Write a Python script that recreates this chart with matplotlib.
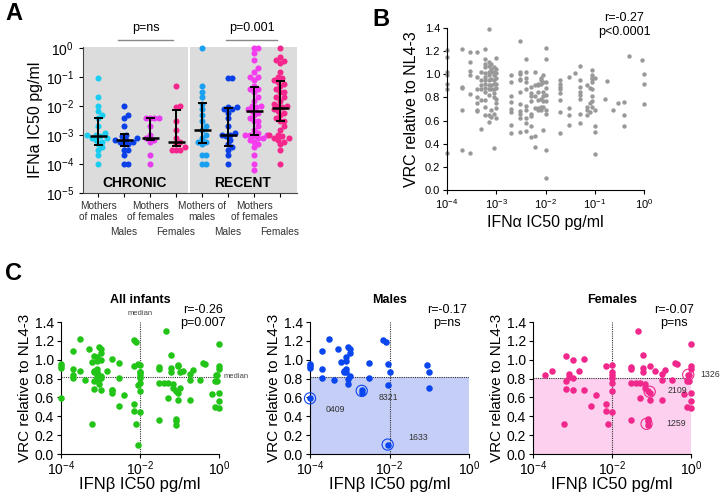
import numpy as np
import matplotlib
matplotlib.use("Agg")
import matplotlib.pyplot as plt
import matplotlib.transforms as mtransforms

plt.rcParams['font.family'] = ['Liberation Sans', 'DejaVu Sans']
plt.rcParams['mathtext.default'] = 'regular'

# ---------------- panel A data: IFNa IC50 per group ----------------
groups_a = ["Mothers\nof males", "Males", "Mothers\nof females", "Females",
            "Mothers of\nmales", "Males", "Mothers\nof females", "Females"]
colors_a = ["#1BCDF0", "#0B3FE8", "#E43CEE", "#F5268C",
            "#1AA0F0", "#0B3FE8", "#F23CEE", "#F5268C"]
ifna_values = [
    [0.09, 0.02, 0.01, 0.007, 0.005, 0.004, 0.002, 0.0012, 0.001, 0.001, 0.0009,
     0.0008, 0.0008, 0.0007, 0.0006, 0.0005, 0.0004, 0.0003, 0.0002, 0.0001],
    [0.01, 0.005, 0.004, 0.002, 0.001, 0.0009, 0.0008, 0.0007, 0.0007, 0.0006,
     0.0006, 0.0005, 0.0005, 0.0003, 0.0003, 0.0002, 0.0001, 0.0001],
    [0.004, 0.004, 0.004, 0.004, 0.002, 0.001, 0.0008, 0.0007, 0.0006, 0.0002, 0.0001],
    [0.05, 0.01, 0.009, 0.003, 0.0015, 0.0008, 0.0006, 0.0005, 0.0004, 0.0003,
     0.0003, 0.0003],
    [1.0, 0.05, 0.03, 0.02, 0.012, 0.008, 0.005, 0.003, 0.002, 0.0015, 0.001,
     0.0008, 0.0006, 0.0006, 0.0005, 0.0002, 0.0002, 0.0001, 0.0001],
    [0.09, 0.09, 0.009, 0.009, 0.008, 0.008, 0.006, 0.004, 0.002, 0.0012, 0.001,
     0.001, 0.0009, 0.0007, 0.0005, 0.0004, 0.0003, 0.0002, 0.0001],
    [1.0, 1.0, 0.7, 0.4, 0.2, 0.15, 0.1, 0.1, 0.08, 0.05, 0.04, 0.04, 0.03, 0.02,
     0.015, 0.01, 0.01, 0.009, 0.008, 0.007, 0.006, 0.005, 0.004, 0.003, 0.003,
     0.002, 0.0015, 0.0012, 0.001, 0.001, 0.001, 0.0009, 0.0008, 0.0008, 0.0007,
     0.0006, 0.0005, 0.0004, 0.0002, 0.0001, 0.00006],
    [1.0, 0.5, 0.4, 0.35, 0.3, 0.15, 0.1, 0.09, 0.08, 0.07, 0.06, 0.05, 0.04, 0.03,
     0.03, 0.02, 0.02, 0.015, 0.012, 0.01, 0.01, 0.009, 0.008, 0.007, 0.006, 0.005,
     0.004, 0.003, 0.003, 0.002, 0.0015, 0.001, 0.001, 0.0009, 0.0008, 0.0008,
     0.0007, 0.0006, 0.0005, 0.0003, 0.0001],
]
ifna_median = [9e-4, 6.5e-4, 8e-4, 6e-4, 1.5e-3, 1e-3, 6.8e-3, 8.8e-3]
ifna_low = [4.7e-4, 4.3e-4, 7e-4, 4.3e-4, 5.5e-4, 4.2e-4, 1e-3, 3e-3]
ifna_high = [3.9e-3, 1.1e-3, 4e-3, 7.5e-3, 1.25e-2, 8.5e-3, 4.7e-2, 7.6e-2]

# ---------------- panel B data: VRC vs IFNa IC50 ----------------
vrc_by_ifna = {
    1e-4: [1.21, 1.15, 1.02, 0.99, 0.92, 0.87, 0.32],
    2e-4: [1.22, 0.89, 0.88, 0.69, 0.35],
    3e-4: [1.19, 1.11, 1.03, 0.99, 0.83, 0.32],
    4e-4: [1.19, 0.98, 0.87, 0.80, 0.75, 0.69, 0.68],
    5e-4: [1.02, 0.95, 0.91, 0.87, 0.78, 0.53],
    6e-4: [1.22, 1.13, 1.09, 1.06, 1.01, 0.98, 0.95, 0.92, 0.88, 0.85, 0.78, 0.72, 0.65],
    7e-4: [1.39, 1.11, 1.07, 1.02, 0.99, 0.95, 0.91, 0.87, 0.82, 0.65, 0.59],
    8e-4: [1.09, 1.05, 1.02, 0.96, 0.91, 0.87, 0.69, 0.63],
    9e-4: [1.06, 1.02, 0.99, 0.95, 0.92, 0.87, 0.84, 0.80, 0.66, 0.36],
    1e-3: [1.14, 1.05, 1.01, 0.97, 0.92, 0.88, 0.79, 0.75, 0.71, 0.62],
    2e-3: [0.99, 0.93, 0.81, 0.76, 0.70, 0.67, 0.56, 0.49],
    3e-3: [1.29, 1.02, 1.00, 0.96, 0.95, 0.85, 0.74, 0.68, 0.66, 0.62, 0.50],
    4e-3: [1.13, 1.02, 0.97, 0.93, 0.87, 0.73, 0.69, 0.62, 0.58, 0.51],
    5e-3: [0.89, 0.84, 0.81, 0.77, 0.66, 0.64, 0.55, 0.46],
    6e-3: [1.02, 0.91, 0.81, 0.71, 0.47, 0.37],
    7e-3: [0.92, 0.91, 0.85, 0.78, 0.71, 0.69],
    8e-3: [0.97, 0.95, 0.92, 0.79, 0.72, 0.69],
    9e-3: [0.99, 0.93, 0.85, 0.81, 0.77, 0.72, 0.52],
    1e-2: [1.23, 1.13, 0.93, 0.88, 0.82, 0.77, 0.69, 0.66, 0.35, 0.10],
    2e-2: [0.95, 0.92, 0.89, 0.87, 0.84, 0.78, 0.67, 0.49],
    3e-2: [0.98, 0.71, 0.65, 0.56],
    4e-2: [1.01],
    5e-2: [1.07, 0.95, 0.89, 0.85, 0.82, 0.79, 0.66, 0.58],
    7e-2: [0.91, 0.72, 0.69, 0.65],
    8e-2: [0.88, 0.75, 0.67],
    9e-2: [1.04, 0.99, 0.97, 0.96, 0.93, 0.87, 0.81, 0.77, 0.72],
    1e-1: [0.97, 0.69, 0.55, 0.50, 0.31],
    0.16: [0.79],
    0.18: [0.94],
    0.23: [0.69],
    0.3: [0.75],
    0.4: [0.76, 0.65, 0.55],
    0.5: [1.16],
    0.9: [1.12],
    1.0: [1.00, 0.92, 0.74],
}

# ---------------- panel C data: VRC vs IFNb IC50 ----------------
vrc_males = {
    1e-4: [0.95, 0.93, 0.91, 0.59], 2e-4: [1.09, 0.90, 0.81], 3e-4: [1.22],
    4e-4: [0.79], 5e-4: [1.11], 6e-4: [0.98], 7e-4: [0.88, 0.87],
    8e-4: [1.03, 0.99, 0.90, 0.87], 9e-4: [1.13, 0.80, 0.74],
    1e-3: [1.11, 1.07, 0.83], 2e-3: [0.68, 0.65], 3e-3: [0.97, 0.81],
    7e-3: [1.21], 8e-3: [1.19], 9e-3: [0.95, 0.73, 0.10], 1e-2: [0.87],
    0.09: [0.94], 0.1: [0.87, 0.70],
}
vrc_females = {
    2e-4: [0.84], 3e-4: [0.88], 6e-4: [0.32], 7e-4: [1.04, 0.77, 0.69],
    8e-4: [0.85, 0.82], 1e-3: [1.00, 0.81, 0.68], 1.5e-3: [0.88],
    2e-3: [1.01, 0.68], 3e-3: [0.51], 4e-3: [0.63], 7e-3: [0.93, 0.53, 0.46],
    8e-3: [0.32], 1e-2: [0.94, 0.87, 0.84, 0.81, 0.75, 0.67, 0.45],
    0.03: [0.92, 0.90, 0.75, 0.36], 0.04: [0.75], 0.045: [1.30],
    0.05: [0.75, 0.59], 0.06: [1.05, 0.91, 0.87], 0.07: [0.74, 0.70],
    0.08: [0.67, 0.37, 0.35, 0.31], 0.09: [0.93, 0.65, 0.57], 0.12: [0.88],
    0.18: [0.85, 0.79, 0.57], 0.22: [0.89], 0.33: [0.79], 0.4: [0.96],
    0.45: [0.95], 0.65: [0.64], 0.8: [0.50, 0.77], 0.85: [0.84],
    0.9: [0.84, 0.77], 1.0: [1.17, 0.93, 0.90, 0.65, 0.56, 0.49],
}
male_ids = ["0409", "8321", "1633"]
male_id_x = [1e-4, 2e-3, 9e-3]
male_id_y = [0.59, 0.67, 0.10]
female_ids = ["1326", "2109", "1259"]
female_id_x = [0.85, 0.09, 0.075]
female_id_y = [0.84, 0.66, 0.32]
median_ifnb = 0.01
median_vrc = [0.82, 0.82, 0.81]
stats_c = ["r=-0.26\np=0.007", "r=-0.17\np=ns", "r=-0.07\np=ns"]


def flatten(d):
    xs, ys = [], []
    for k, v in d.items():
        xs += [k] * len(v)
        ys += v
    return np.array(xs), np.array(ys)


def swarm(vals, px_per_dec=28.9, px_per_unit=26.0, d=4.3):
    # simple deterministic beeswarm in pixel space
    ys = np.log10(vals) * px_per_dec
    offs = np.zeros(len(vals))
    placed = []
    for i in np.argsort(ys):
        cands = [0.0]
        for j in range(1, 30):
            cands += [j * d * 0.5, -j * d * 0.5]
        for c in cands:
            if all((c - px) ** 2 + (ys[i] - py) ** 2 >= d ** 2 for px, py in placed):
                offs[i] = c
                placed.append((c, ys[i]))
                break
    return offs / px_per_unit


W, H = 722, 495
fig = plt.figure(figsize=(W / 100, H / 100), dpi=100)


def box(l, t, r, b):
    return [l / W, 1 - b / H, (r - l) / W, (b - t) / H]


# ================= Panel A =================
ax = fig.add_axes(box(83, 47, 297, 193))
ax.set_yscale('log')
ax.set_ylim(1e-5, 1.1)
ax.set_xlim(0.42, 8.65)
ax.axvspan(0.42, 4.45, color='#DCDCDC', lw=0, zorder=0)
ax.axvspan(4.55, 8.65, color='#DCDCDC', lw=0, zorder=0)
pos = np.arange(1, 9)
for i, vals in enumerate(ifna_values):
    vals = np.array(vals)
    ax.scatter(pos[i] + swarm(vals), vals, s=19, color=colors_a[i], lw=0,
               zorder=2, clip_on=False)
ax.vlines(pos, ifna_low, ifna_high, color='black', lw=1.4, zorder=3)
ax.hlines(ifna_low, pos - 0.17, pos + 0.17, color='black', lw=1.4, zorder=3)
ax.hlines(ifna_high, pos - 0.17, pos + 0.17, color='black', lw=1.4, zorder=3)
ax.hlines(ifna_median, pos - 0.33, pos + 0.33, color='black', lw=1.8, zorder=3)
ax.set_xticks(pos)
ax.set_xticklabels([g if i % 2 == 0 else '' for i, g in enumerate(groups_a)],
                   fontsize=7.3, color='#333333', linespacing=1.1)
trans = mtransforms.blended_transform_factory(ax.transData, ax.transAxes)
for i, g in enumerate(groups_a):
    if i % 2 == 1:
        ax.text(pos[i], -0.27, g, transform=trans, ha='center', va='center',
                fontsize=7.3, color='#333333')
ax.tick_params(axis='x', length=3, pad=3)
ax.set_yticks([1e-5, 1e-4, 1e-3, 1e-2, 1e-1, 1e0])
ax.minorticks_off()
ax.tick_params(axis='y', labelsize=10, length=3)
ax.set_ylabel('IFNa IC50 pg/ml', fontsize=11.5, labelpad=2)
for s in ['top', 'right']:
    ax.spines[s].set_visible(False)
for s in ['left', 'bottom']:
    ax.spines[s].set_color('#444444')
ax.text(2.42, 0.07, 'CHRONIC', transform=trans, ha='center', va='center',
        fontsize=10, fontweight='bold')
ax.text(6.57, 0.07, 'RECENT', transform=trans, ha='center', va='center',
        fontsize=10, fontweight='bold')
for x0, x1, lab in [(1.77, 3.9, 'p=ns'), (5.92, 7.9, 'p=0.001')]:
    ax.plot([x0, x1], [1.045, 1.045], transform=trans, color='#888888', lw=1,
            clip_on=False)
    ax.text((x0 + x1) / 2, 1.13, lab, transform=trans, ha='center', va='center',
            fontsize=9)

# ================= Panel B =================
ax = fig.add_axes(box(447, 28, 644, 190))
bx, by = flatten(vrc_by_ifna)
ax.scatter(bx, by, s=10, color='#999999', lw=0, zorder=2, clip_on=False)
ax.set_xscale('log')
ax.set_xlim(1e-4, 1)
ax.set_ylim(0, 1.4)
ax.set_yticks(np.arange(0, 1.41, 0.2))
ax.set_yticklabels([f'{v:.1f}' for v in np.arange(0, 1.41, 0.2)])
ax.minorticks_off()
ax.tick_params(labelsize=8, length=3, pad=2)
ax.set_xlabel('IFN\u03b1 IC50 pg/ml', fontsize=11.5, labelpad=3)
ax.set_ylabel('VRC relative to NL4-3', fontsize=11.5, labelpad=4)
for s in ['top', 'right']:
    ax.spines[s].set_visible(False)
ax.text(0.9, 1.1, 'r=-0.27\np<0.0001', transform=ax.transAxes, ha='center',
        va='top', fontsize=9, linespacing=1.2)

# ================= Panel C =================
mx, my = flatten(vrc_males)
fx, fy = flatten(vrc_females)
c_panels = [
    (61, 219, 'All infants', np.concatenate([mx, fx]), np.concatenate([my, fy]),
     '#22C418', None),
    (310, 469, 'Males', mx, my, '#0A46EE', '#C5CEF7'),
    (533, 691, 'Females', fx, fy, '#F0288C', '#FCD0EE'),
]
stat_x = [0.9, 0.86, 0.89]
for k, (l, r, title, xs, ys, col, shade) in enumerate(c_panels):
    ax = fig.add_axes(box(l, 322, r, 454))
    ax.set_xscale('log')
    ax.set_xlim(1e-4, 1)
    ax.set_ylim(0, 1.4)
    if shade:
        ax.fill_between([1e-4, 1], 0, median_vrc[k], color=shade, lw=0, zorder=0)
    ax.axhline(median_vrc[k], color='#333333', lw=0.8, ls=(0, (1, 1)), zorder=1)
    ax.axvline(median_ifnb, color='#333333', lw=0.8, ls=(0, (1, 1)), zorder=1)
    ax.scatter(xs, ys, s=22, color=col, lw=0, zorder=3, clip_on=False)
    ax.set_yticks(np.arange(0, 1.41, 0.2))
    ax.set_yticklabels([f'{v:.1f}' for v in np.arange(0, 1.41, 0.2)])
    ax.minorticks_off()
    ax.tick_params(labelsize=10, length=3, pad=2)
    ax.tick_params(axis='x', pad=1)
    ax.set_xlabel('IFN\u03b2 IC50 pg/ml', fontsize=12, labelpad=-1)
    ax.set_ylabel('VRC relative to NL4-3', fontsize=11, labelpad=2)
    for s in ['top', 'right']:
        ax.spines[s].set_visible(False)
    ax.text(0.5, 1.17, title, transform=ax.transAxes, ha='center', va='center',
            fontsize=9, fontweight='bold')
    ax.text(stat_x[k], 1.14, stats_c[k], transform=ax.transAxes, ha='center',
            va='top', fontsize=9, linespacing=1.15)
    if k == 0:
        ax.text(median_ifnb, 1.45, 'median', ha='center', va='bottom',
                fontsize=5.5, color='#444444', clip_on=False)
        ax.text(1.03, median_vrc[k], 'median', ha='left', va='center',
                transform=mtransforms.blended_transform_factory(ax.transAxes, ax.transData),
                fontsize=5.5, color='#444444', clip_on=False)
        continue
    if k == 1:
        ids, ix, iy = male_ids, male_id_x, male_id_y
        offsets = [(11, -8), (12, -5), (15, 5)]
    else:
        ids, ix, iy = female_ids, female_id_x, female_id_y
        offsets = [(9, 0), (13, 1), (14, 0)]
    ax.scatter(ix, iy, s=65, facecolors='none', edgecolors=col, lw=0.8,
               zorder=4, clip_on=False)
    for name, x, y, off in zip(ids, ix, iy, offsets):
        ax.annotate(name, (x, y), xytext=off, textcoords='offset points',
                    ha='left', va='center', fontsize=6.3, color='#333333',
                    annotation_clip=False)

# panel letters
fig.text(5 / W, 1 - 14 / H, 'A', fontsize=17, fontweight='bold', va='center')
fig.text(372 / W, 1 - 19 / H, 'B', fontsize=17, fontweight='bold', va='center')
fig.text(5 / W, 1 - 274 / H, 'C', fontsize=17, fontweight='bold', va='center')

fig.savefig('out.png', dpi=100, facecolor='white')
